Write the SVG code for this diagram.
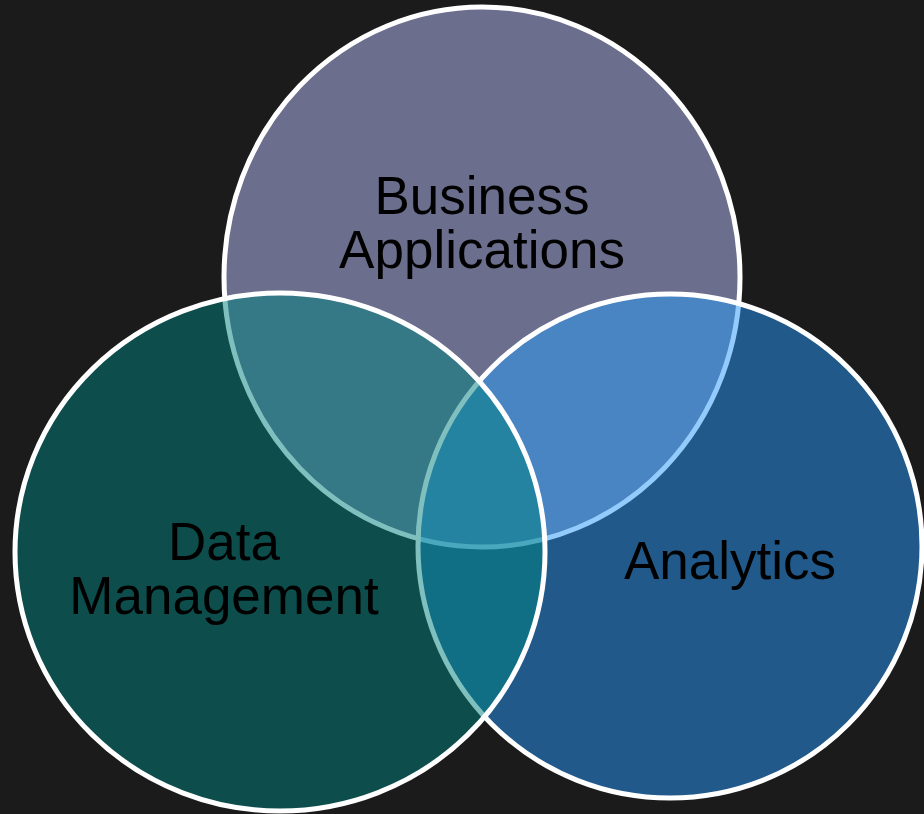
<svg xmlns="http://www.w3.org/2000/svg" width="924" height="814" viewBox="0 0 924 814">
<style>
.c{stroke:#ffffff;stroke-width:5}
.t{font-family:"Liberation Sans",Arial,sans-serif;font-size:53px;fill:#000000;text-anchor:middle}
</style>
<rect x="0" y="0" width="924" height="814" fill="#1b1b1b"/>
<g id="business">
<ellipse class="c" cx="482" cy="277" rx="258" ry="270" fill="#6b6e8c"/>
</g>
<g id="analytics">
<ellipse class="c" cx="670" cy="546" rx="252" ry="252" fill="#2799f9" fill-opacity="0.5"/>
</g>
<g id="datamgmt">
<ellipse class="c" cx="280" cy="552" rx="265" ry="259" fill="#00827f" fill-opacity="0.5"/>
</g>
<g id="labels">
<text class="t" x="482" y="214">Business</text>
<text class="t" x="482" y="268">Applications</text>
<text class="t" x="224" y="560">Data</text>
<text class="t" x="224" y="614">Management</text>
<text class="t" x="730" y="579">Analytics</text>
</g>
</svg>
